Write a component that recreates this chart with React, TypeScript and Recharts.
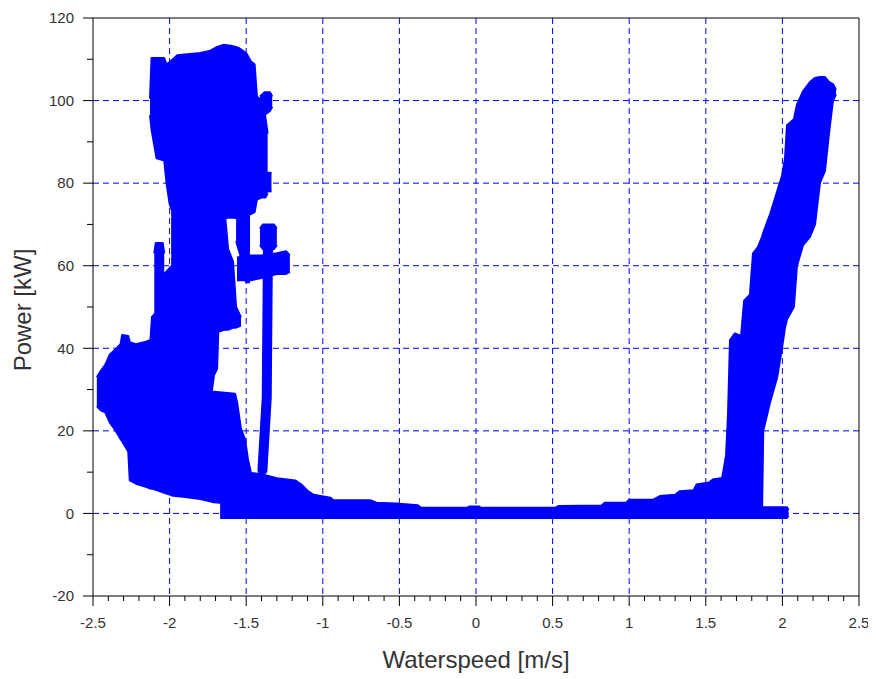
import { ComposedChart, Area, Line, XAxis, YAxis, CartesianGrid, ReferenceLine } from 'recharts'

const X_TICKS = [-2.5, -2, -1.5, -1, -0.5, 0, 0.5, 1, 1.5, 2, 2.5]
const X_ALL = [
  -2.5, -2.4, -2.3, -2.2, -2.1, -2, -1.9, -1.8, -1.7, -1.6, -1.5, -1.4, -1.3, -1.2, -1.1, -1,
  -0.9, -0.8, -0.7, -0.6, -0.5, -0.4, -0.3, -0.2, -0.1, 0, 0.1, 0.2, 0.3, 0.4, 0.5, 0.6, 0.7,
  0.8, 0.9, 1, 1.1, 1.2, 1.3, 1.4, 1.5, 1.6, 1.7, 1.8, 1.9, 2, 2.1, 2.2, 2.3, 2.4, 2.5,
]
const X_GRID = [-2, -1.5, -1, -0.5, 0, 0.5, 1, 1.5, 2]
const Y_TICKS = [-20, 0, 20, 40, 60, 80, 100, 120]
const Y_ALL = [-20, -10, 0, 10, 20, 30, 40, 50, 60, 70, 80, 90, 100, 110, 120]
const Y_GRID = [0, 20, 40, 60, 80, 100]

// each row: [waterspeed, power low, power high] — outline of the dense point clouds
const lowLeft = [
  [-2.475, 26, 33],
  [-2.45, 25, 34.5],
  [-2.42, 24.5, 36],
  [-2.39, 22, 38.5],
  [-2.36, 20.5, 39.5],
  [-2.32, 18, 41],
  [-2.31, 17.5, 43.2],
  [-2.27, 15, 43],
  [-2.26, 8, 41.5],
  [-2.22, 7.2, 41],
  [-2.16, 6.5, 41.5],
  [-2.125, 6, 42],
  [-2.115, 6, 47.6],
  [-2.08, 5.6, 49],
  [-2.035, 5, 58],
  [-1.985, 4.4, 60],
]
const spike = [
  [-2.1, 45, 63],
  [-2.09, 45, 65.5],
  [-2.045, 45, 65.5],
  [-2.035, 45, 63],
]
const trunk = [
  [-1.99, 4.4, 82],
  [-1.975, 4.3, 86],
  [-1.9, 4, 90],
  [-1.8, 3.5, 90],
  [-1.723, 2.8, 90],
]
const trunkLowRight = [
  [-1.725, 2.8, 29.5],
  [-1.71, 2.7, 29.5],
  [-1.573, 2.3, 29],
  [-1.56, 2.3, 27],
  [-1.534, 2.2, 20.5],
  [-1.508, 2, 18],
  [-1.488, 2, 13],
  [-1.47, 2, 10],
]
const trunkUpRight = [
  [-1.725, 29.5, 90],
  [-1.71, 33.5, 90],
  [-1.69, 35, 90],
  [-1.682, 44, 90],
  [-1.645, 44.5, 75],
  [-1.618, 44.5, 64],
  [-1.586, 45, 61],
  [-1.566, 45, 50],
  [-1.534, 45.5, 47.5],
]
const cap = [
  [-2.128, 96.5, 100.5],
  [-2.118, 93, 110.3],
  [-2.085, 86, 110.3],
  [-2.035, 85.5, 110.3],
  [-2.02, 80, 108.8],
  [-2.0, 75, 109.3],
  [-1.95, 70, 111],
  [-1.8, 70, 111.5],
  [-1.74, 70, 112],
  [-1.69, 70, 113],
  [-1.65, 71.5, 113.5],
  [-1.6, 71.7, 113.3],
  [-1.55, 71.5, 112.8],
  [-1.5, 72, 111.5],
  [-1.47, 72.5, 109.5],
  [-1.445, 73, 108.8],
  [-1.43, 76, 101],
  [-1.4, 76.5, 100],
  [-1.375, 76.5, 96],
  [-1.36, 77.5, 92],
]
const capBumpTop = [
  [-1.41, 97, 101],
  [-1.38, 96.5, 102],
  [-1.345, 97.5, 102],
  [-1.33, 98.5, 101],
]
const capBumpLow = [
  [-1.37, 78, 82.5],
  [-1.335, 78, 82.5],
]
const protrusion = [
  [-1.566, 66, 72],
  [-1.534, 62, 72],
  [-1.5, 56, 72],
  [-1.475, 56, 72],
]
const bar = [
  [-1.56, 56.5, 62],
  [-1.47, 56.5, 62.5],
  [-1.4, 57, 62.5],
  [-1.3, 58, 63],
  [-1.24, 58, 63.5],
  [-1.215, 58.5, 62.5],
]
const barTop = [
  [-1.41, 65, 69],
  [-1.39, 64, 70],
  [-1.32, 64, 70],
  [-1.3, 65, 69],
]
const stem = [
  { x: -1.394, y: 10.5 },
  { x: -1.366, y: 28 },
  { x: -1.358, y: 64 },
]
const band = [
  [-1.67, -1.1, 3],
  [-1.62, -1.1, 8],
  [-1.52, -1.1, 10],
  [-1.4, -1.1, 9.5],
  [-1.3, -1.1, 8.5],
  [-1.18, -1.1, 8],
  [-1.14, -1.1, 7],
  [-1.1, -1.1, 5.5],
  [-1.06, -1.1, 4.5],
  [-0.95, -1.1, 3.8],
  [-0.93, -1.1, 3.2],
  [-0.69, -1.1, 3.2],
  [-0.65, -1.1, 2.6],
  [-0.52, -1.1, 2.4],
  [-0.38, -1.1, 2.0],
  [-0.36, -1.1, 1.4],
  [-0.06, -1.1, 1.4],
  [-0.04, -1.1, 1.7],
  [0.02, -1.1, 1.7],
  [0.03, -1.1, 1.4],
  [0.52, -1.1, 1.4],
  [0.54, -1.1, 1.8],
  [0.82, -1.1, 1.9],
  [0.84, -1.1, 2.6],
  [0.98, -1.1, 2.6],
  [1.0, -1.1, 3.3],
  [1.16, -1.1, 3.4],
  [1.2, -1.1, 4.2],
  [1.3, -1.1, 4.5],
  [1.33, -1.1, 5.4],
  [1.42, -1.1, 5.6],
  [1.44, -1.1, 7],
  [1.52, -1.1, 7.5],
  [1.55, -1.1, 8.3],
  [1.61, -1.1, 8.6],
  [1.66, -1.1, 3],
  [1.8, -1.1, 1.5],
  [2.03, -1.1, 1.5],
  [2.04, -0.5, 0.8],
]
const rightCluster = [
  [1.606, 0, 8.5],
  [1.632, 0, 14],
  [1.645, 0, 24],
  [1.658, 0, 42],
  [1.69, 0, 43.6],
  [1.73, 0, 43],
  [1.75, 0, 51.5],
  [1.788, 0, 53],
  [1.808, 0, 63],
  [1.84, 0, 64.5],
  [1.867, 0, 67],
  [1.875, 20, 68],
  [1.92, 27, 72.5],
  [1.966, 33, 78],
  [1.997, 40, 81.7],
  [2.017, 45, 86],
  [2.03, 47, 94],
  [2.075, 50, 95.5],
  [2.095, 60, 99],
  [2.135, 65, 102.3],
  [2.18, 67, 104.5],
  [2.213, 70, 105.5],
  [2.245, 80, 105.7],
  [2.278, 83, 105.7],
  [2.304, 92, 104.5],
  [2.33, 100, 104],
  [2.35, 101.5, 102.5],
]

const BLOBS = [
  lowLeft, spike, trunk, trunkLowRight, trunkUpRight, cap, capBumpTop, capBumpLow,
  protrusion, bar, barTop, band, rightCluster,
]

const toRange = (rows: number[][]) => rows.map(([x, lo, hi]) => ({ x, r: [lo, hi] }))

const BLUE = '#0000ff'
const FONT = "'Liberation Sans', Arial, sans-serif"

// axis ticks: long for labelled values, short for the minor ones
const XTick = (props: any) => {
  const { x, y, payload } = props
  const major = X_TICKS.includes(payload.value)
  return (
    <g>
      <line x1={x} x2={x} y1={y} y2={y + (major ? 10 : 5)} stroke="#000" />
      {major && (
        <text x={x} y={y + 21} dy="0.71em" textAnchor="middle" fontSize={15} fontFamily={FONT} fill="#333">
          {String(payload.value)}
        </text>
      )}
    </g>
  )
}

const YTick = (props: any) => {
  const { x, y, payload } = props
  const major = Y_TICKS.includes(payload.value)
  return (
    <g>
      <line x1={x - (major ? 10 : 6)} x2={x} y1={y} y2={y} stroke="#000" />
      {major && (
        <text x={x - 19} y={y} dy="0.355em" textAnchor="end" fontSize={15} fontFamily={FONT} fill="#333">
          {String(payload.value)}
        </text>
      )}
    </g>
  )
}

const XTitle = (props: any) => {
  const vb = props.viewBox
  return (
    <text x={vb.x + vb.width / 2} y={vb.y + 72} textAnchor="middle" fontSize={24} fontFamily={FONT} fill="#333">
      Waterspeed [m/s]
    </text>
  )
}

const YTitle = (props: any) => {
  const vb = props.viewBox
  const cx = vb.x + 23
  const cy = vb.y + vb.height / 2 + 3
  return (
    <text x={cx} y={cy} transform={`rotate(-90, ${cx}, ${cy})`} textAnchor="middle" fontSize={24} fontFamily={FONT} fill="#333">
      Power [kW]
    </text>
  )
}

export default function App() {
  return (
    <div style={{ width: 868, height: 671, background: '#fff' }}>
      <ComposedChart width={868} height={671} margin={{ top: 10, right: 17, bottom: 0, left: 0 }}>
        <CartesianGrid stroke={BLUE} strokeDasharray="6 4" verticalValues={X_GRID} horizontalValues={Y_GRID} />
        {BLOBS.map((rows, i) => (
          <Area
            key={i}
            data={toRange(rows)}
            dataKey="r"
            type="linear"
            fill={BLUE}
            fillOpacity={1}
            stroke={BLUE}
            strokeWidth={2}
            strokeLinejoin="round"
            dot={false}
            activeDot={false}
            isAnimationActive={false}
          />
        ))}
        <Line
          data={stem}
          dataKey="y"
          type="linear"
          stroke={BLUE}
          strokeWidth={10}
          strokeLinecap="round"
          dot={false}
          activeDot={false}
          isAnimationActive={false}
        />
        <ReferenceLine y={120} stroke="#000" />
        <ReferenceLine x={2.5} stroke="#000" />
        <XAxis
          type="number"
          dataKey="x"
          domain={[-2.5, 2.5]}
          allowDataOverflow
          ticks={X_ALL}
          interval={0}
          height={83}
          tickSize={0}
          tickMargin={0}
          tickLine={false}
          stroke="#000"
          tick={XTick}
          label={XTitle}
        />
        <YAxis
          type="number"
          domain={[-20, 120]}
          allowDataOverflow
          ticks={Y_ALL}
          interval={0}
          width={85}
          tickSize={0}
          tickMargin={0}
          tickLine={false}
          stroke="#000"
          tick={YTick}
          label={YTitle}
        />
      </ComposedChart>
    </div>
  )
}
